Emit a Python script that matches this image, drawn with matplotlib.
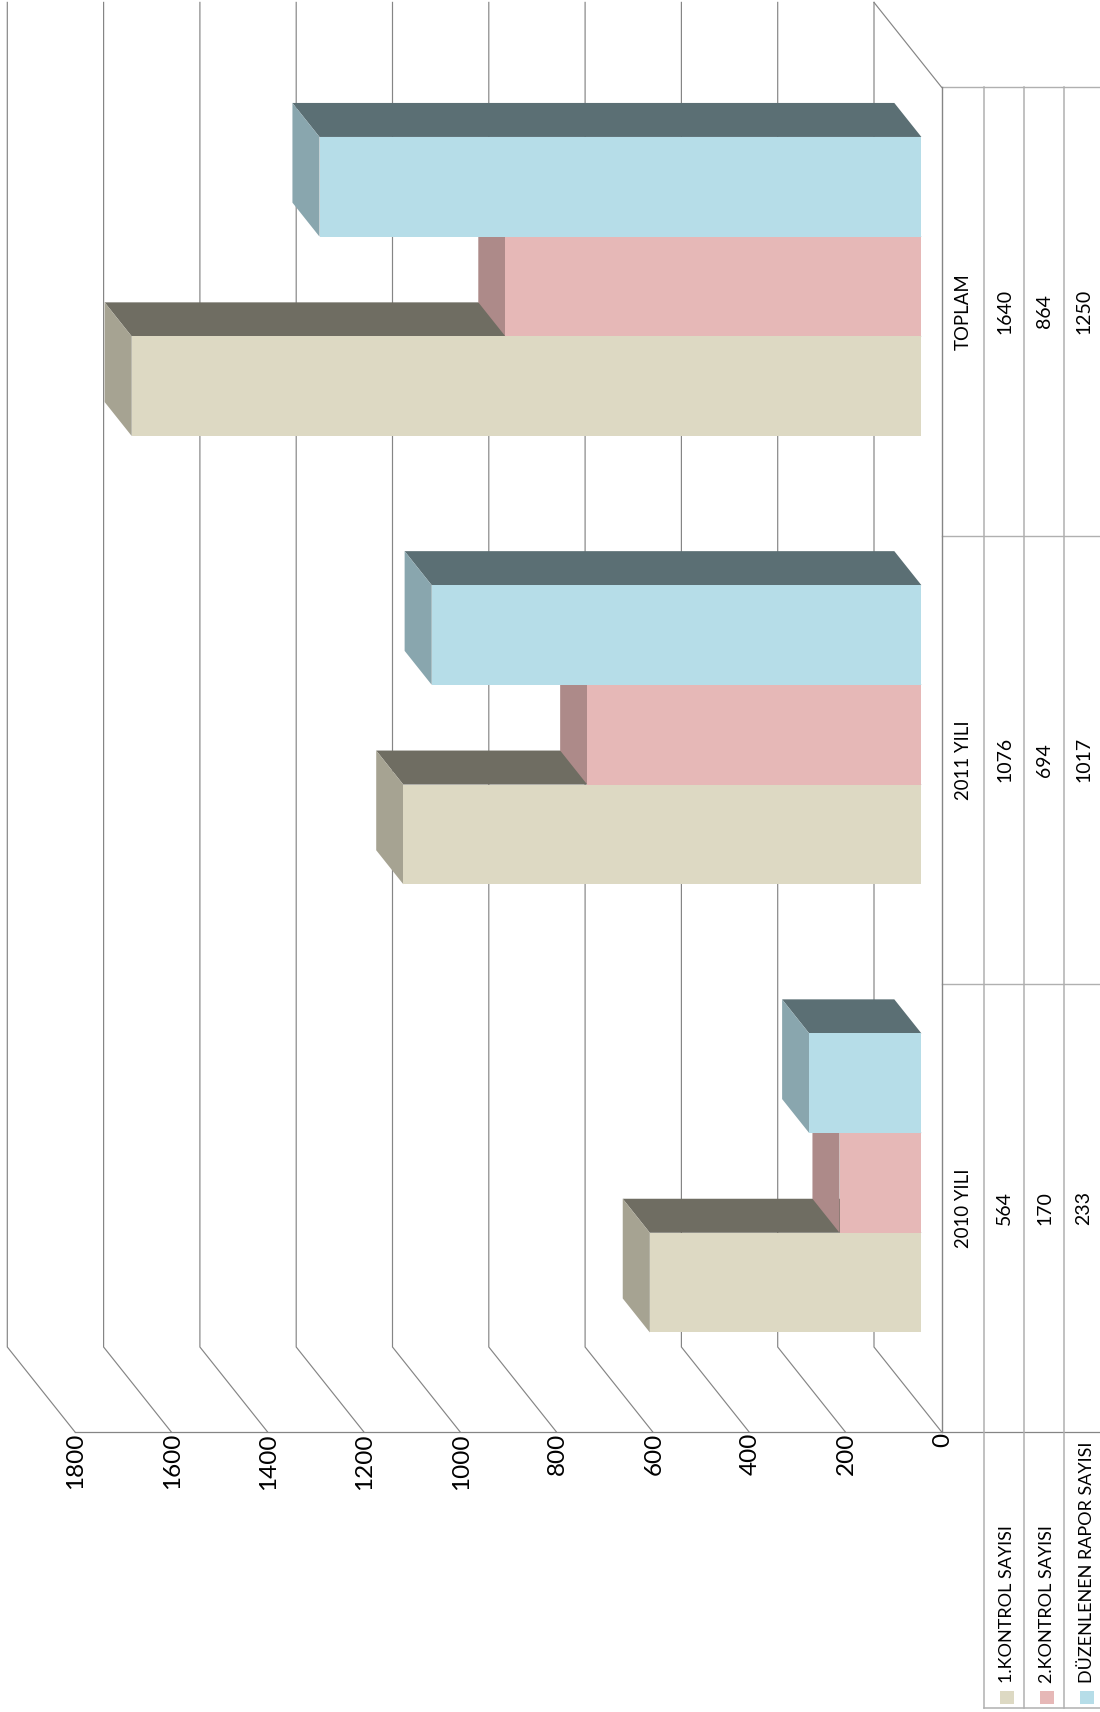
import matplotlib
matplotlib.use('Agg')
import matplotlib.pyplot as plt
from matplotlib.patches import Polygon, Rectangle
import numpy as np

categories = ['2010 YILI', '2011 YILI', 'TOPLAM']
kontrol_1 = [564, 1076, 1640]
kontrol_2 = [170, 694, 864]
rapor = [233, 1017, 1250]
series_names = ['1.KONTROL SAYISI', '2.KONTROL SAYISI', 'DÜZENLENEN RAPOR SAYISI']
series_values = [kontrol_1, kontrol_2, rapor]
series_colors = ['#DDD9C3', '#E6B8B7', '#B6DDE8']
value_ticks = [0, 200, 400, 600, 800, 1000, 1200, 1400, 1600, 1800]

W, H = 1100, 1712
x0_px, y0_px = 941.7, 1432.0   # chart origin in the picture
px_per_value = 0.4815
px_per_cat = 448.2

# oblique depth of the back wall, in data units
depth_v = 67.7 / px_per_value
depth_c = 85.0 / px_per_cat

def val(px):
    return (x0_px - px) / px_per_value

def cat(py):
    return (y0_px - py) / px_per_cat

def shade(color, f):
    rgb = np.array(matplotlib.colors.to_rgb(color))
    return tuple(rgb * f)

def oblique(v, c, d):
    return (v + d * depth_v, c + d * depth_c)

plt.rcParams['font.family'] = ['Lato', 'DejaVu Sans']

fig = plt.figure(figsize=(W / 100, H / 100), dpi=100)
ax = fig.add_axes([0, 0, 1, 1])
ax.set_xlim(val(0), val(W))
ax.set_ylim(cat(H), cat(0))
ax.axis('off')

grid_col = '#858585'
table_col = '#B0B0B0'
n_cat = len(categories)

# wall gridlines and floor diagonals
for v in value_ticks:
    xs = [v, oblique(v, 0, 1)[0], oblique(v, n_cat, 1)[0]]
    ys = [0, oblique(v, 0, 1)[1], oblique(v, n_cat, 1)[1]]
    ax.plot(xs, ys, color=grid_col, lw=0.85, zorder=1, solid_joinstyle='miter')
    ax.text(v - 1 / px_per_value, cat(1433), str(v), rotation=90, ha='center', va='top',
            fontsize=17.5, color='black')

# side wall at the top end
ax.plot([0, depth_v], [n_cat, n_cat + depth_c], color=grid_col, lw=0.85, zorder=1)

# bars: width 99.7 px in a band, depth 0.3 to 0.7
bar_w = 99.7 / px_per_cat
bar_shift = 0.5 / px_per_cat
for s, (vals, col) in enumerate(zip(series_values, series_colors)):
    for i, v in enumerate(vals):
        c0 = i + 0.5 - 1.5 * bar_w + s * bar_w - bar_shift
        c1 = c0 + bar_w
        front = [oblique(0, c0, 0.3), oblique(v, c0, 0.3), oblique(v, c1, 0.3), oblique(0, c1, 0.3)]
        top = [oblique(v, c0, 0.3), oblique(v, c1, 0.3), oblique(v, c1, 0.7), oblique(v, c0, 0.7)]
        roof = [oblique(0, c1, 0.3), oblique(v, c1, 0.3), oblique(v, c1, 0.7), oblique(0, c1, 0.7)]
        z = 2 + s
        ax.add_patch(Polygon(roof, fc=shade(col, 0.5), ec='none', zorder=z))
        ax.add_patch(Polygon(top, fc=shade(col, 0.75), ec='none', zorder=z))
        ax.add_patch(Polygon(front, fc=col, ec='none', zorder=z))

# data table
col_x = [val(984), val(1024), val(1064)]
table_bottom = cat(1708)
ax.plot([value_ticks[-1], val(W)], [0, 0], color=grid_col, lw=0.9, zorder=6)
for c in [1, 2, n_cat]:
    ax.plot([0, val(W)], [c, c], color=table_col, lw=1.0, zorder=6)
ax.plot([0, 0], [n_cat, 0], color=grid_col, lw=1.0, zorder=6)
for x in col_x:
    ax.plot([x, x], [n_cat, table_bottom], color=table_col, lw=1.1, zorder=6)
ax.plot([col_x[0], val(W)], [table_bottom, table_bottom], color=table_col, lw=1.1, zorder=6)

row_x = [val(1004.5), val(1044.5), val(1084)]
for i, name in enumerate(categories):
    ax.text(val(963.5), i + 0.5, name, rotation=90, ha='center', va='center',
            fontsize=13.4, color='black')
    for s, vals in enumerate(series_values):
        ax.text(row_x[s], i + 0.5, str(vals[i]), rotation=90, ha='center',
                va='center', fontsize=14, color='black')

# legend keys in the table
for s, name in enumerate(series_names):
    ax.add_patch(Rectangle((row_x[s] + 4.5 / px_per_value, cat(1704)),
                           -14 / px_per_value, 13.5 / px_per_cat,
                           fc=series_colors[s], ec='none', zorder=6))
    ax.text(row_x[s] - 3 / px_per_value, cat(1683), name, rotation=90, ha='center',
            va='bottom', fontsize=13, color='black')

fig.savefig('out.png', dpi=100)
